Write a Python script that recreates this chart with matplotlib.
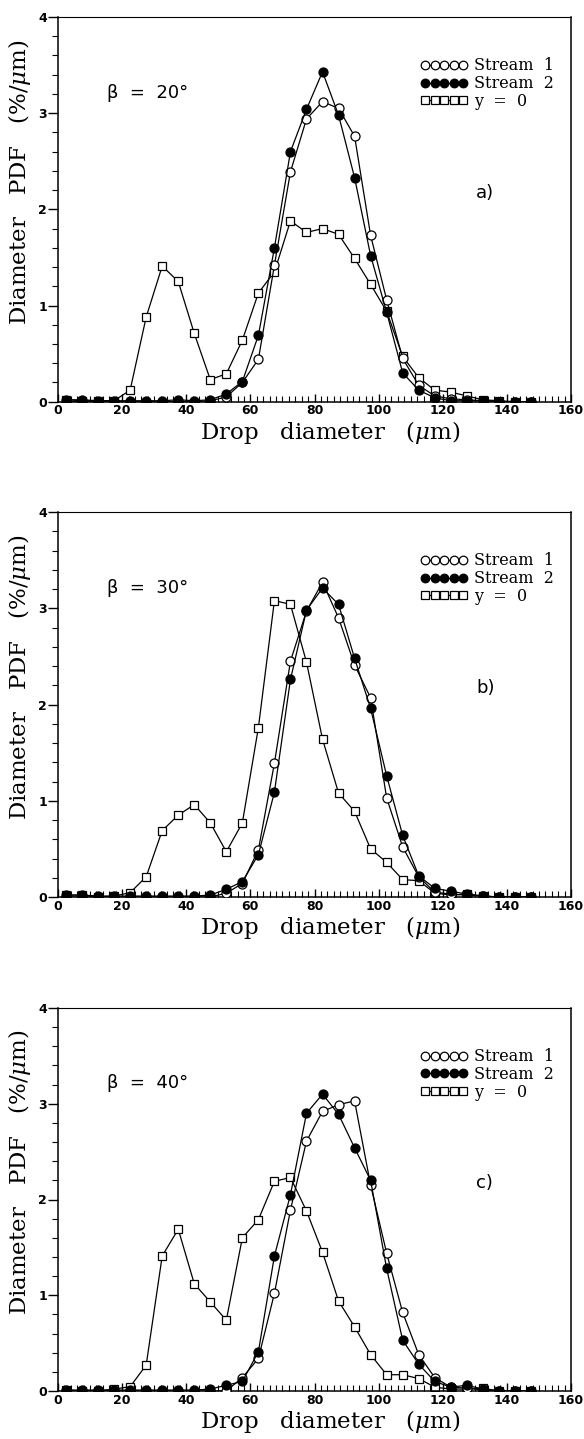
import matplotlib
matplotlib.use("Agg")
import matplotlib.pyplot as plt
from matplotlib.ticker import MultipleLocator
import numpy as np

# bin centres of the 5 um drop-size classes
diam = np.arange(2.5, 150, 5.0)

# beta = 20 deg
s1_20 = [0.0, 0.0, 0.0, 0.0, 0.0, 0.0, 0.0, 0.0, 0.0, 0.01,
         0.05, 0.2, 0.44, 1.42, 2.39, 2.94, 3.12, 3.05, 2.76, 1.73,
         1.06, 0.45, 0.17, 0.06, 0.03, 0.02, 0.01, 0.0, 0.0, 0.0]
s2_20 = [0.02, 0.02, 0.01, 0.01, 0.01, 0.01, 0.01, 0.02, 0.01, 0.02,
         0.08, 0.21, 0.69, 1.6, 2.6, 3.04, 3.43, 2.98, 2.33, 1.52,
         0.93, 0.3, 0.12, 0.04, 0.01, 0.01, 0.01, 0.0, 0.0, 0.0]
y0_20 = [0.02, 0.01, 0.01, 0.01, 0.12, 0.88, 1.41, 1.25, 0.71, 0.23,
         0.29, 0.64, 1.13, 1.35, 1.88, 1.76, 1.8, 1.74, 1.49, 1.22,
         0.94, 0.47, 0.25, 0.12, 0.1, 0.06, 0.02, 0.01, 0.0, 0.0]

# beta = 30 deg
s1_30 = [0.0, 0.0, 0.0, 0.0, 0.0, 0.0, 0.0, 0.0, 0.0, 0.0,
         0.04, 0.14, 0.49, 1.39, 2.45, 2.97, 3.27, 2.9, 2.41, 2.07,
         1.03, 0.52, 0.21, 0.05, 0.03, 0.02, 0.01, 0.0, 0.0, 0.0]
s2_30 = [0.02, 0.02, 0.01, 0.01, 0.01, 0.01, 0.01, 0.01, 0.01, 0.02,
         0.08, 0.16, 0.44, 1.09, 2.26, 2.98, 3.21, 3.04, 2.48, 1.96,
         1.26, 0.64, 0.22, 0.09, 0.06, 0.03, 0.01, 0.0, 0.0, 0.0]
y0_30 = [0.02, 0.02, 0.0, 0.01, 0.045, 0.21, 0.69, 0.85, 0.96, 0.77,
         0.47, 0.77, 1.76, 3.08, 3.04, 2.44, 1.64, 1.08, 0.89, 0.5,
         0.36, 0.18, 0.17, 0.04, 0.02, 0.03, 0.01, 0.0, 0.0, 0.0]

# beta = 40 deg
s1_40 = [0.0, 0.0, 0.0, 0.0, 0.0, 0.0, 0.0, 0.0, 0.0, 0.0,
         0.0, 0.14, 0.34, 1.02, 1.89, 2.61, 2.92, 2.99, 3.03, 2.15,
         1.44, 0.82, 0.38, 0.14, 0.04, 0.03, 0.01, 0.0, 0.0, 0.0]
s2_40 = [0.01, 0.01, 0.01, 0.01, 0.01, 0.01, 0.01, 0.01, 0.01, 0.02,
         0.06, 0.1, 0.41, 1.41, 2.05, 2.9, 3.1, 2.89, 2.54, 2.2,
         1.28, 0.53, 0.28, 0.1, 0.04, 0.06, 0.02, 0.0, 0.0, 0.0]
y0_40 = [0.01, 0.0, 0.0, 0.02, 0.045, 0.27, 1.41, 1.69, 1.12, 0.93,
         0.74, 1.6, 1.79, 2.19, 2.23, 1.88, 1.45, 0.94, 0.67, 0.38,
         0.17, 0.17, 0.13, 0.04, 0.02, 0.02, 0.03, 0.0, 0.0, 0.0]

angles = [20, 30, 40]
panel_tags = ["a)", "b)", "c)"]
series = [(s1_20, s2_20, y0_20), (s1_30, s2_30, y0_30), (s1_40, s2_40, y0_40)]

W, H = 584, 1439
# (top, bottom) of each panel frame, in pixels from the top of the page
frames = [(17, 401.7), (512, 897), (1008, 1391)]
left_px, right_px = 58, 571

plt.rcParams['mathtext.fontset'] = 'dejavuserif'
serif = ['DejaVu Serif']
sans = ['DejaVu Sans']

fig = plt.figure(figsize=(W / 100, H / 100), dpi=100)

for k in range(3):
    top, bot = frames[k]
    ax = fig.add_axes([left_px / W, (H - bot) / H,
                       (right_px - left_px) / W, (bot - top) / H])
    s1, s2, y0 = series[k]
    ax.plot(diam, y0, color='k', lw=0.9, marker='s', ms=5.5,
            mfc='white', mec='k', mew=0.9, label='y  =  0', zorder=2)
    ax.plot(diam, s1, color='k', lw=0.9, marker='o', ms=6.5,
            mfc='white', mec='k', mew=0.9, label='Stream  1', zorder=3)
    ax.plot(diam, s2, color='k', lw=0.9, marker='o', ms=6.5,
            mfc='k', mec='k', mew=0.9, label='Stream  2', zorder=4)

    ax.set_xlim(0, 160)
    ax.set_ylim(0, 4)
    ax.xaxis.set_major_locator(MultipleLocator(20))
    ax.xaxis.set_minor_locator(MultipleLocator(2))
    ax.yaxis.set_major_locator(MultipleLocator(1))
    ax.yaxis.set_minor_locator(MultipleLocator(0.2))
    ax.tick_params(axis='x', which='both', direction='in', top=False)
    ax.tick_params(axis='x', which='major', length=6, width=1.0, pad=2)
    ax.tick_params(axis='x', which='minor', length=4, width=0.8)
    ax.tick_params(axis='y', which='both', direction='out', right=False)
    ax.tick_params(axis='y', which='major', length=7, width=1.0, pad=1)
    ax.tick_params(axis='y', which='minor', length=4, width=0.8)
    for lab in ax.get_xticklabels() + ax.get_yticklabels():
        lab.set_family(sans)
        lab.set_fontweight('bold')
        lab.set_fontsize(9)
    for sp in ax.spines.values():
        sp.set_linewidth(1.1)
    ax.spines['top'].set_linewidth(0.8)

    ax.set_xlabel(r'Drop   diameter   ($\mu$m)', family=serif, fontsize=16.5)
    ax.xaxis.set_label_coords(0.53, -0.045, transform=ax.transAxes)
    ax.xaxis.label.set_va('top')
    ax.set_ylabel(r'Diameter   PDF   (%/$\mu$m)', family=serif, fontsize=16.5)
    ax.yaxis.set_label_coords(-0.048, 0.57, transform=ax.transAxes)

    ax.text(0.095, 0.79, 'β  =  %d°' % angles[k],
            transform=ax.transAxes, family=sans, fontsize=13)
    ax.text(0.815, 0.53, panel_tags[k], transform=ax.transAxes,
            family=sans, fontsize=13)

    handles, labels = ax.get_legend_handles_labels()
    order = [1, 2, 0]
    ax.legend([handles[i] for i in order], [labels[i] for i in order],
              loc='upper right', bbox_to_anchor=(0.985, 0.92),
              frameon=False, numpoints=5, markerscale=0.95,
              handlelength=3.0, handletextpad=0.35, labelspacing=0.05,
              prop={'family': serif, 'size': 11.5}, borderaxespad=0.2)

fig.savefig('out.png', dpi=100)
